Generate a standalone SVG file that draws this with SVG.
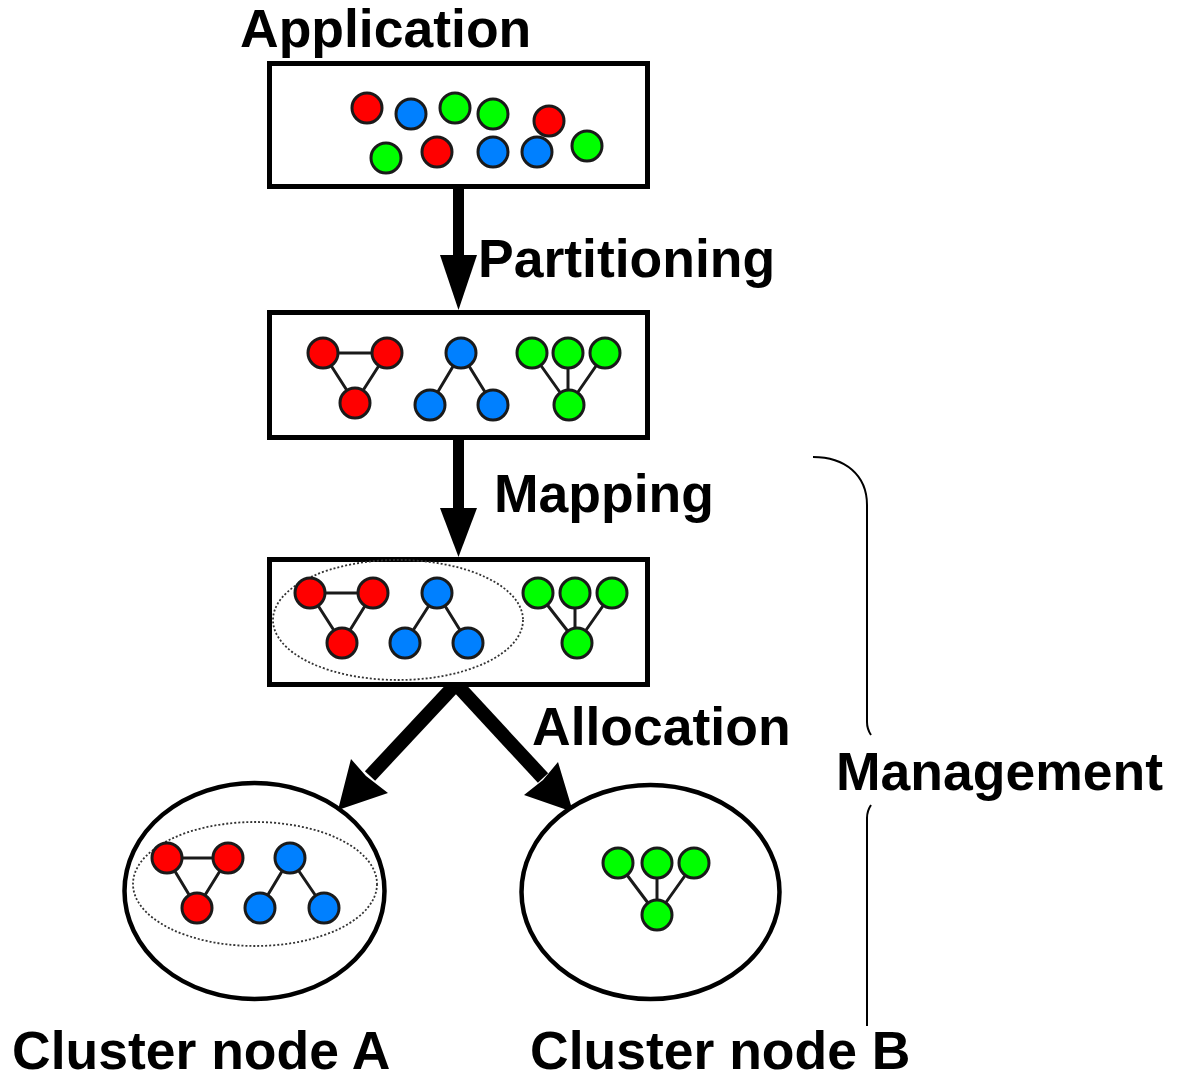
<svg xmlns="http://www.w3.org/2000/svg" width="1180" height="1081" viewBox="0 0 1180 1081">
  <style>
    .lbl { font-family: "Liberation Sans", Arial, sans-serif; font-weight: bold; font-size: 53.5px; fill: #000; }
    .box { fill: #fff; stroke: #000; stroke-width: 5; }
    .cl { fill: #fff; stroke: #000; stroke-width: 4.5; }
    .r { fill: #ff0000; stroke: #1a1a1a; stroke-width: 3; }
    .b { fill: #0080ff; stroke: #1a1a1a; stroke-width: 3; }
    .g { fill: #00ff00; stroke: #1a1a1a; stroke-width: 3; }
    .e { stroke: #1a1a1a; stroke-width: 3; fill: none; }
    .dot { fill: none; stroke: #333; stroke-width: 1.8; stroke-dasharray: 2 2; }
    .shaft { stroke: #000; fill: none; }
    .brace { fill: none; stroke: #000; stroke-width: 2; }
  </style>

  <g id="connectors">
    <rect x="453" y="186" width="11" height="72" fill="#000"/>
    <polygon points="440,255 477,255 458.5,310" fill="#000"/>
    <rect x="453" y="437" width="11" height="74" fill="#000"/>
    <polygon points="440,508 477,508 458.5,557" fill="#000"/>
    <line class="shaft" x1="456" y1="684" x2="370" y2="776" stroke-width="14"/>
    <polygon points="338,810 351,759 366,776 388,793" fill="#000"/>
    <line class="shaft" x1="456" y1="684" x2="543" y2="778" stroke-width="14"/>
    <polygon points="573,812 524,795 543,780 558,762" fill="#000"/>
  </g>

  <g id="application">
    <rect class="box" x="269.5" y="63.5" width="378" height="123"/>
    <circle class="r" cx="367" cy="108" r="15"/>
    <circle class="b" cx="411" cy="114" r="15"/>
    <circle class="g" cx="455" cy="108" r="15"/>
    <circle class="g" cx="493" cy="114" r="15"/>
    <circle class="r" cx="549" cy="121" r="15"/>
    <circle class="g" cx="386" cy="158" r="15"/>
    <circle class="r" cx="437" cy="152" r="15"/>
    <circle class="b" cx="493" cy="152" r="15"/>
    <circle class="b" cx="537" cy="152" r="15"/>
    <circle class="g" cx="587" cy="146" r="15"/>
  </g>

  <g id="partitioned">
    <rect class="box" x="269.5" y="312.5" width="378" height="125"/>
    <path class="e" d="M323,353 H387 M323,353 L355,403 M387,353 L355,403 M461,353 L430,405 M461,353 L493,405 M532,353 L569,405 M568,353 V405 M605,353 L569,405"/>
    <circle class="r" cx="323" cy="353" r="15"/>
    <circle class="r" cx="387" cy="353" r="15"/>
    <circle class="r" cx="355" cy="403" r="15"/>
    <circle class="b" cx="461" cy="353" r="15"/>
    <circle class="b" cx="430" cy="405" r="15"/>
    <circle class="b" cx="493" cy="405" r="15"/>
    <circle class="g" cx="532" cy="353" r="15"/>
    <circle class="g" cx="568" cy="353" r="15"/>
    <circle class="g" cx="605" cy="353" r="15"/>
    <circle class="g" cx="569" cy="405" r="15"/>
  </g>

  <g id="mapped">
    <rect class="box" x="269.5" y="559.5" width="378" height="125"/>
    <ellipse class="dot" cx="398" cy="620" rx="125" ry="60"/>
    <path class="e" d="M310,593 H373 M310,593 L342,643 M373,593 L342,643 M437,593 L405,643 M437,593 L468,643 M538,593 L577,643 M575,593 V643 M612,593 L577,643"/>
    <circle class="r" cx="310" cy="593" r="15"/>
    <circle class="r" cx="373" cy="593" r="15"/>
    <circle class="r" cx="342" cy="643" r="15"/>
    <circle class="b" cx="437" cy="593" r="15"/>
    <circle class="b" cx="405" cy="643" r="15"/>
    <circle class="b" cx="468" cy="643" r="15"/>
    <circle class="g" cx="538" cy="593" r="15"/>
    <circle class="g" cx="575" cy="593" r="15"/>
    <circle class="g" cx="612" cy="593" r="15"/>
    <circle class="g" cx="577" cy="643" r="15"/>
  </g>

  <g id="cluster-a">
    <ellipse class="cl" cx="254.5" cy="891" rx="130" ry="108"/>
    <ellipse class="dot" cx="255" cy="884" rx="122" ry="62"/>
    <path class="e" d="M167,858 H228 M167,858 L197,908 M228,858 L197,908 M290,858 L260,908 M290,858 L324,908"/>
    <circle class="r" cx="167" cy="858" r="15"/>
    <circle class="r" cx="228" cy="858" r="15"/>
    <circle class="r" cx="197" cy="908" r="15"/>
    <circle class="b" cx="290" cy="858" r="15"/>
    <circle class="b" cx="260" cy="908" r="15"/>
    <circle class="b" cx="324" cy="908" r="15"/>
  </g>

  <g id="cluster-b">
    <ellipse class="cl" cx="650.5" cy="892" rx="129" ry="107"/>
    <path class="e" d="M618,863 L657,915 M657,863 V915 M694,863 L657,915"/>
    <circle class="g" cx="618" cy="863" r="15"/>
    <circle class="g" cx="657" cy="863" r="15"/>
    <circle class="g" cx="694" cy="863" r="15"/>
    <circle class="g" cx="657" cy="915" r="15"/>
  </g>

  <g id="management-brace">
    <path class="brace" d="M813,457 C845,457 867,475 867,505 V722 C867,728 869,732 871,735"/>
    <path class="brace" d="M871,805 C869,808 867,812 867,818 V1026"/>
  </g>

  <g id="labels">
    <text class="lbl" x="240" y="47">Application</text>
    <text class="lbl" x="478" y="277">Partitioning</text>
    <text class="lbl" x="494" y="512">Mapping</text>
    <text class="lbl" x="532" y="745">Allocation</text>
    <text class="lbl" x="836" y="790">Management</text>
    <text class="lbl" x="12" y="1069">Cluster node A</text>
    <text class="lbl" x="530" y="1069">Cluster node B</text>
  </g>
</svg>
